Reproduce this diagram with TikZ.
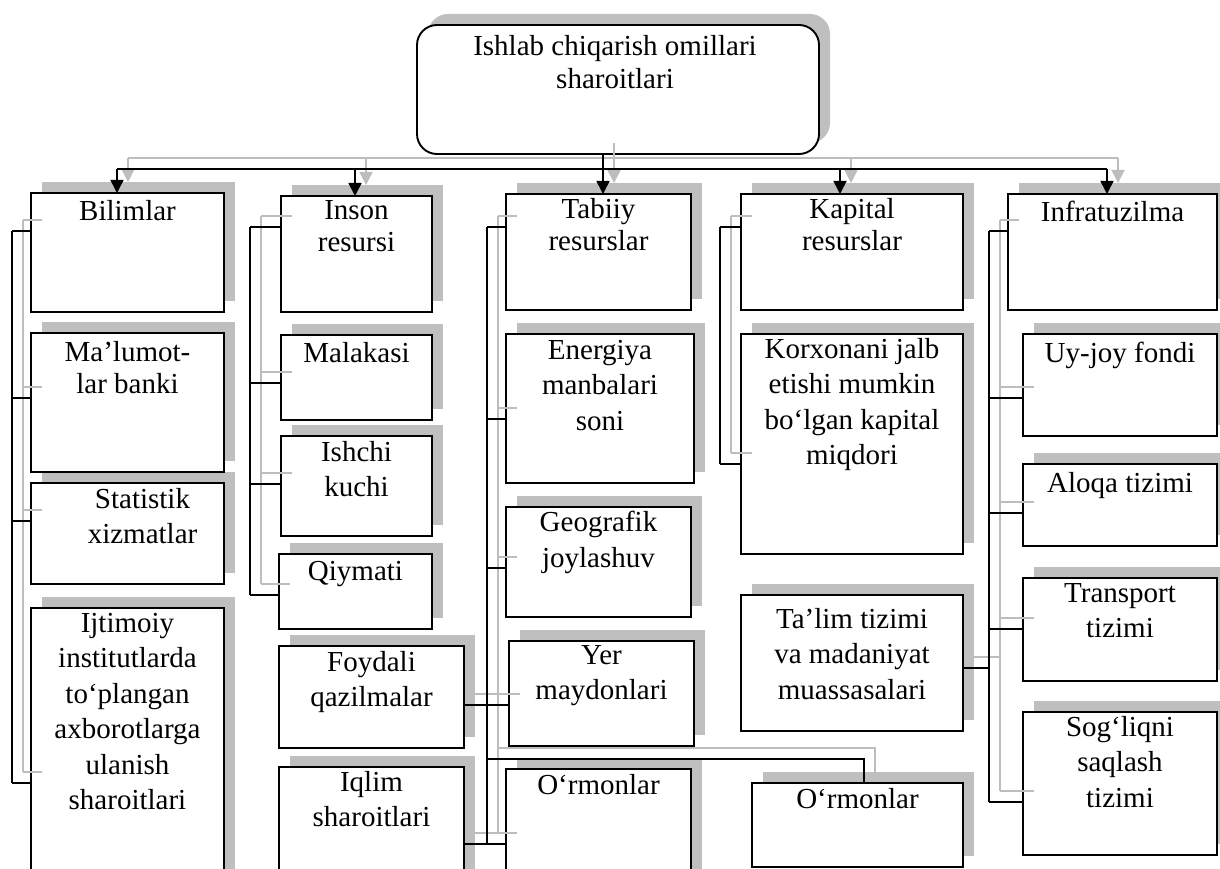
\documentclass[tikz,border=0pt]{standalone}
\usepackage{fontspec}
\setmainfont{Liberation Serif}
\usetikzlibrary{arrows.meta,calc}
\pgfdeclarelayer{back}
\pgfsetlayers{back,main}

\definecolor{shade}{gray}{0.75}
\definecolor{shadeline}{gray}{0.74}

\tikzset{
  frontbox/.style={draw=black, line width=1.9pt, fill=white, inner sep=0pt, outer sep=0pt, anchor=north west},
  shadebox/.style={fill=shade, draw=none, inner sep=0pt, outer sep=0pt, anchor=north west},
  boxtext/.style={font=\fontsize{29}{35.5}\selectfont, align=center, inner sep=0pt, anchor=north,
    execute at begin node=\rule{0pt}{22pt}},
  wire/.style={draw=black, line width=1.6pt},
  shadewire/.style={draw=shadeline, line width=1.3pt},
  tip/.style={-{Triangle[length=13pt,width=13pt]}},
}

% box with its drop shadow: [text xshift]{name}{x1}{y1}{x2}{y2}{text offset}{text}
\newcommand{\mkbox}[8][0]{%
  \begin{pgfonlayer}{back}
    \node[shadebox, minimum width={#5-#3}, minimum height={#6-#4}] (#2-s) at (#3+11,#4-11) {};
  \end{pgfonlayer}
  \node[frontbox, minimum width={#5-#3}, minimum height={#6-#4}] (#2) at (#3,#4) {};
  \node[boxtext] (#2-t) at ($(#2.north)+(#1,#7)$) {#8};
}

% junction point and its shadow twin
\newcommand{\jn}[3]{\coordinate (#1) at (#2,#3); \coordinate (#1-s) at (#2+11,#3-11);}

% all connectors; #1 = name suffix, #2 = line style
\newcommand{\wires}[2]{%
  \draw[#2] (top#1.south -| d3#1) -- (d3#1);
  \draw[#2] (d1#1) -- (d5#1);
  \draw[#2,tip] (d1#1) -- (d1#1 |- bil#1.north);
  \draw[#2,tip] (d2#1) -- (d2#1 |- ins#1.north);
  \draw[#2,tip] (d3#1) -- (d3#1 |- tab#1.north);
  \draw[#2,tip] (d4#1) -- (d4#1 |- kap#1.north);
  \draw[#2,tip] (d5#1) -- (d5#1 |- inf#1.north);
  % first column
  \draw[#2] (a1#1) -- (a4#1);
  \draw[#2] (a1#1) -- (a1#1 -| bil#1.west);
  \draw[#2] (a2#1) -- (a2#1 -| mal#1.west);
  \draw[#2] (a3#1) -- (a3#1 -| sta#1.west);
  \draw[#2] (a4#1) -- (a4#1 -| ijt#1.west);
  % second column
  \draw[#2] (b1#1) -- (b4#1);
  \draw[#2] (b1#1) -- (b1#1 -| ins#1.west);
  \draw[#2] (b2#1) -- (b2#1 -| mlk#1.west);
  \draw[#2] (b3#1) -- (b3#1 -| ish#1.west);
  \draw[#2] (b4#1) -- (b4#1 -| qiy#1.west);
  % third column
  \draw[#2] (c1#1) -- (c6#1);
  \draw[#2] (c1#1) -- (c1#1 -| tab#1.west);
  \draw[#2] (c2#1) -- (c2#1 -| ene#1.west);
  \draw[#2] (c3#1) -- (c3#1 -| geo#1.west);
  \draw[#2] (foy#1.east |- c4#1) -- (yer#1.west |- c4#1);
  \draw[#2] (c5#1) -- (k#1) -- (k#1 |- orb#1.north);
  \draw[#2] (iql#1.east |- c6#1) -- (orm#1.west |- c6#1);
  % fourth column
  \draw[#2] (e1#1) -- (e2#1);
  \draw[#2] (e1#1) -- (e1#1 -| kap#1.west);
  \draw[#2] (e2#1) -- (e2#1 -| kor#1.west);
  % fifth column
  \draw[#2] (f1#1) -- (f6#1);
  \draw[#2] (f1#1) -- (f1#1 -| inf#1.west);
  \draw[#2] (f2#1) -- (f2#1 -| uyj#1.west);
  \draw[#2] (f3#1) -- (f3#1 -| alo#1.west);
  \draw[#2] (f4#1) -- (f4#1 -| tra#1.west);
  \draw[#2] (tal#1.east |- f5#1) -- (f5#1);
  \draw[#2] (f6#1) -- (f6#1 -| sog#1.west);
}

\begin{document}
\begin{tikzpicture}[x=1pt,y=-1pt]
\useasboundingbox (0,0) rectangle (1220,869);
\begin{pgfonlayer}{back}
  \fill[white] (0,0) rectangle (1220,869);
\end{pgfonlayer}

% head box
\begin{pgfonlayer}{back}
  \node[shadebox, rounded corners=20pt, minimum width=402, minimum height=129] (top-s) at (428,14) {};
\end{pgfonlayer}
\node[frontbox, rounded corners=20pt, minimum width=402, minimum height=129] (top) at (417,25) {};
\node[boxtext] (top-t) at ($(top.north)+(-3,10)$) {Ishlab chiqarish omillari\\[-2pt]sharoitlari};

% first column
\mkbox{bil}{31}{193}{224}{312}{5}{Bilimlar}
\mkbox{mal}{31}{333}{224}{472}{8}{Ma’lumot-\\[-3pt]lar banki}
\mkbox[15]{sta}{31}{483}{224}{584}{5}{Statistik\\xizmatlar}
\mkbox{ijt}{31}{608}{224}{900}{5}{Ijtimoiy\\institutlarda\\to‘plangan\\axborotlarga\\ulanish\\sharoitlari}
% second column
\mkbox{ins}{281}{196}{432}{312}{4}{Inson\\[-3pt]resursi}
\mkbox{mlk}{281}{335}{432}{420}{5}{Malakasi}
\mkbox{ish}{281}{436}{432}{536}{5}{Ishchi\\kuchi}
\mkbox{qiy}{279}{554}{432}{629}{4}{Qiymati}
\mkbox{foy}{279}{646}{464}{748}{5}{Foydali\\qazilmalar}
\mkbox{iql}{279}{767}{464}{900}{4}{Iqlim\\sharoitlari}
% third column
\mkbox{tab}{506}{194}{691}{310}{4}{Tabiiy\\[-3pt]resurslar}
\mkbox{ene}{506}{334}{694}{483}{6}{Energiya\\manbalari\\soni}
\mkbox{geo}{506}{507}{691}{617}{4}{Geografik\\joylashuv}
\mkbox{yer}{509}{641}{694}{746}{4}{Yer\\maydonlari}
\mkbox{orm}{506}{769}{691}{900}{3}{O‘rmonlar}
% fourth column
\mkbox{kap}{741}{194}{963}{310}{4}{Kapital\\[-3pt]resurslar}
\mkbox{kor}{741}{334}{963}{554}{4}{Korxonani jalb\\etishi mumkin\\bo‘lgan kapital\\miqdori}
\mkbox{tal}{741}{595}{963}{731}{13}{Ta’lim tizimi\\va madaniyat\\muassasalari}
\mkbox{orb}{752}{783}{963}{867}{3}{O‘rmonlar}
% fifth column
\mkbox{inf}{1008}{194}{1217}{310}{5}{Infratuzilma}
\mkbox{uyj}{1023}{334}{1217}{436}{6}{Uy-joy fondi}
\mkbox{alo}{1023}{464}{1217}{546}{6}{Aloqa tizimi}
\mkbox{tra}{1023}{578}{1217}{681}{5}{Transport\\tizimi}
\mkbox{sog}{1023}{712}{1217}{855}{4}{Sog‘liqni\\saqlash\\tizimi}

% junctions
\jn{d1}{117}{169}\jn{d2}{355}{169}\jn{d3}{603}{169}\jn{d4}{840}{169}\jn{d5}{1107}{169}
\jn{a1}{12}{231}\jn{a2}{12}{398}\jn{a3}{12}{521}\jn{a4}{12}{783}
\jn{b1}{250}{227}\jn{b2}{250}{383}\jn{b3}{250}{484}\jn{b4}{250}{595}
\jn{c1}{487}{227}\jn{c2}{487}{419}\jn{c3}{487}{568}\jn{c4}{487}{705}\jn{c5}{487}{759}\jn{c6}{487}{844}
\jn{k}{864}{759}
\jn{e1}{720}{227}\jn{e2}{720}{464}
\jn{f1}{989}{231}\jn{f2}{989}{398}\jn{f3}{989}{513}\jn{f4}{989}{629}\jn{f5}{989}{668}\jn{f6}{989}{802}

% shadow lines first, then the black connectors
\wires{-s}{shadewire}
\wires{}{wire}
\end{tikzpicture}
\end{document}
